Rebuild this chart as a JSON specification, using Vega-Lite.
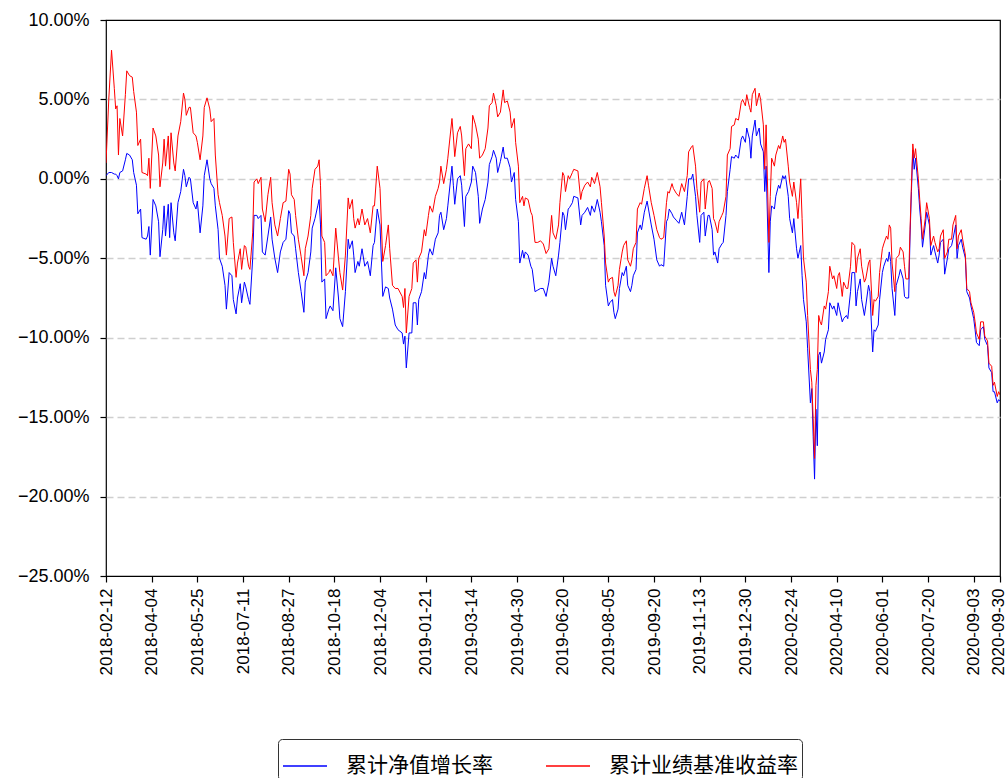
{
  "$schema": "https://vega.github.io/schema/vega-lite/v6.json",
  "width": 894,
  "height": 556,
  "autosize": {"type": "none"},
  "padding": {"left": 106, "top": 20, "right": 7, "bottom": 202},
  "background": "white",
  "config": {
    "view": {"stroke": "#000000", "strokeWidth": 1.2},
    "font": "Liberation Sans"
  },
  "data": {"values": [
    {"i":0,"nav":0.2,"bench":1.0},{"i":2,"nav":0.4,"bench":5.0},{"i":4,"nav":0.4,"bench":8.1},{"i":6,"nav":0.3,"bench":5.7},{"i":7,"nav":0.3,"bench":4.4},{"i":8,"nav":0.2,"bench":4.6},{"i":9,"nav":0.0,"bench":1.5},{"i":10,"nav":0.4,"bench":3.8},{"i":12,"nav":0.5,"bench":2.7},{"i":14,"nav":1.2,"bench":5.3},{"i":15,"nav":1.6,"bench":6.8},{"i":17,"nav":1.5,"bench":6.5},{"i":19,"nav":1.2,"bench":6.4},{"i":20,"nav":0.4,"bench":5.5},{"i":22,"nav":-0.4,"bench":4.2},{"i":23,"nav":-2.2,"bench":2.1},{"i":25,"nav":-1.9,"bench":2.5},{"i":26,"nav":-3.7,"bench":0.4},{"i":29,"nav":-3.8,"bench":0.3},{"i":30,"nav":-3.6,"bench":0.2},{"i":31,"nav":-3.0,"bench":1.3},{"i":32,"nav":-4.8,"bench":-0.6},{"i":34,"nav":-1.3,"bench":3.2},{"i":36,"nav":-1.7,"bench":2.7},{"i":38,"nav":-2.7,"bench":1.5},{"i":39,"nav":-4.9,"bench":-0.5},{"i":41,"nav":-3.2,"bench":1.0},{"i":42,"nav":-1.7,"bench":2.5},{"i":43,"nav":-3.6,"bench":0.8},{"i":45,"nav":-1.6,"bench":2.7},{"i":46,"nav":-3.7,"bench":0.6},{"i":47,"nav":-1.5,"bench":2.9},{"i":49,"nav":-3.4,"bench":1.0},{"i":50,"nav":-3.9,"bench":0.5},{"i":52,"nav":-1.5,"bench":2.7},{"i":54,"nav":-0.8,"bench":3.6},{"i":56,"nav":0.6,"bench":5.4},{"i":57,"nav":0.2,"bench":5.0},{"i":58,"nav":-0.5,"bench":4.0},{"i":60,"nav":0.1,"bench":4.5},{"i":61,"nav":0.0,"bench":4.5},{"i":63,"nav":-1.5,"bench":2.9},{"i":65,"nav":-1.9,"bench":2.7},{"i":66,"nav":-1.4,"bench":2.3},{"i":68,"nav":-3.4,"bench":1.2},{"i":70,"nav":-1.7,"bench":2.7},{"i":71,"nav":0.2,"bench":4.5},{"i":73,"nav":1.2,"bench":5.1},{"i":75,"nav":0.0,"bench":4.4},{"i":76,"nav":-0.3,"bench":3.6},{"i":78,"nav":-0.6,"bench":3.8},{"i":79,"nav":-1.7,"bench":1.5},{"i":81,"nav":-3.2,"bench":-1.0},{"i":82,"nav":-5.0,"bench":-1.5},{"i":84,"nav":-5.5,"bench":-2.3},{"i":86,"nav":-6.7,"bench":-3.6},{"i":87,"nav":-8.2,"bench":-4.8},{"i":89,"nav":-5.9,"bench":-2.5},{"i":91,"nav":-6.1,"bench":-2.4},{"i":92,"nav":-7.6,"bench":-4.0},{"i":94,"nav":-8.5,"bench":-6.2},{"i":95,"nav":-7.5,"bench":-5.3},{"i":97,"nav":-6.6,"bench":-4.4},{"i":98,"nav":-7.8,"bench":-5.7},{"i":100,"nav":-6.5,"bench":-4.2},{"i":101,"nav":-6.8,"bench":-4.3},{"i":103,"nav":-7.6,"bench":-5.5},{"i":104,"nav":-7.9,"bench":-5.7},
    {"i":106,"nav":-5.0,"bench":-3.4},{"i":107,"nav":-2.3,"bench":-0.2},{"i":109,"nav":-2.3,"bench":0.0},{"i":110,"nav":-2.5,"bench":-0.3},{"i":112,"nav":-2.3,"bench":0.1},{"i":113,"nav":-4.6,"bench":-1.9},{"i":115,"nav":-4.8,"bench":-2.7},{"i":117,"nav":-3.6,"bench":-1.0},{"i":119,"nav":-2.4,"bench":0.1},{"i":120,"nav":-3.8,"bench":-1.5},{"i":122,"nav":-5.0,"bench":-2.9},{"i":124,"nav":-5.9,"bench":-3.6},{"i":126,"nav":-4.6,"bench":-2.5},{"i":128,"nav":-4.0,"bench":-1.5},{"i":130,"nav":-3.8,"bench":-1.4},{"i":132,"nav":-2.0,"bench":0.6},{"i":133,"nav":-2.2,"bench":0.3},{"i":134,"nav":-3.4,"bench":-1.0},{"i":136,"nav":-3.6,"bench":-1.3},{"i":137,"nav":-4.4,"bench":-2.3},{"i":139,"nav":-5.9,"bench":-3.8},{"i":141,"nav":-7.1,"bench":-4.9},{"i":143,"nav":-8.4,"bench":-6.1},{"i":144,"nav":-6.5,"bench":-4.4},{"i":146,"nav":-5.9,"bench":-3.6},{"i":148,"nav":-4.6,"bench":-2.3},{"i":149,"nav":-3.1,"bench":-0.6},{"i":151,"nav":-2.5,"bench":0.6},{"i":153,"nav":-1.7,"bench":0.8},{"i":154,"nav":-1.3,"bench":1.2},{"i":155,"nav":-2.9,"bench":-0.4},{"i":156,"nav":-6.5,"bench":-3.6},{"i":158,"nav":-6.3,"bench":-4.0},{"i":159,"nav":-8.8,"bench":-6.1},{"i":161,"nav":-8.2,"bench":-5.9},{"i":162,"nav":-8.0,"bench":-5.7},{"i":164,"nav":-8.3,"bench":-6.1},{"i":166,"nav":-5.6,"bench":-3.1},{"i":168,"nav":-7.5,"bench":-5.0},{"i":169,"nav":-8.8,"bench":-5.9},{"i":171,"nav":-9.3,"bench":-7.0},{"i":173,"nav":-7.1,"bench":-4.8},{"i":175,"nav":-3.8,"bench":-1.2},{"i":176,"nav":-4.4,"bench":-1.9},{"i":178,"nav":-3.9,"bench":-1.3},{"i":179,"nav":-4.8,"bench":-2.5},{"i":180,"nav":-5.9,"bench":-3.1},{"i":182,"nav":-5.2,"bench":-2.5},{"i":183,"nav":-5.5,"bench":-2.9},{"i":185,"nav":-4.4,"bench":-1.9},{"i":187,"nav":-5.5,"bench":-2.9},{"i":189,"nav":-5.2,"bench":-2.5},{"i":191,"nav":-6.1,"bench":-3.4},{"i":193,"nav":-4.2,"bench":-1.7},{"i":194,"nav":-4.0,"bench":-1.7},{"i":196,"nav":-1.9,"bench":0.8},{"i":198,"nav":-2.9,"bench":-0.6},{"i":200,"nav":-7.4,"bench":-5.2},{"i":202,"nav":-6.8,"bench":-4.2},{"i":204,"nav":-6.9,"bench":-2.9},{"i":205,"nav":-7.5,"bench":-4.4},{"i":207,"nav":-8.2,"bench":-6.7},{"i":209,"nav":-9.2,"bench":-6.9},
    {"i":211,"nav":-9.5,"bench":-6.9},{"i":214,"nav":-9.7,"bench":-7.4},{"i":215,"nav":-10.4,"bench":-8.1},{"i":216,"nav":-9.9,"bench":-6.9},{"i":217,"nav":-11.9,"bench":-9.7},{"i":219,"nav":-9.7,"bench":-7.4},{"i":221,"nav":-9.7,"bench":-6.9},{"i":222,"nav":-7.8,"bench":-5.3},{"i":224,"nav":-7.8,"bench":-5.1},{"i":225,"nav":-9.2,"bench":-6.5},{"i":226,"nav":-7.6,"bench":-5.0},{"i":228,"nav":-7.1,"bench":-4.6},{"i":230,"nav":-5.9,"bench":-3.2},{"i":231,"nav":-6.3,"bench":-3.6},{"i":233,"nav":-4.8,"bench":-2.3},{"i":234,"nav":-4.4,"bench":-1.7},{"i":236,"nav":-4.8,"bench":-2.1},{"i":238,"nav":-3.8,"bench":-1.1},{"i":240,"nav":-3.4,"bench":-0.6},{"i":241,"nav":-2.3,"bench":-0.2},{"i":242,"nav":-2.1,"bench":0.8},{"i":244,"nav":-3.2,"bench":-0.3},{"i":246,"nav":-2.5,"bench":0.6},{"i":247,"nav":-1.7,"bench":1.3},{"i":250,"nav":0.8,"bench":3.8},{"i":251,"nav":-0.4,"bench":2.7},{"i":252,"nav":-1.6,"bench":1.4},{"i":254,"nav":0.0,"bench":2.9},{"i":256,"nav":0.2,"bench":3.3},{"i":257,"nav":-0.4,"bench":2.7},{"i":259,"nav":-3.0,"bench":0.2},{"i":260,"nav":-1.1,"bench":1.9},{"i":262,"nav":-0.8,"bench":2.2},{"i":264,"nav":-0.2,"bench":1.9},{"i":265,"nav":0.8,"bench":4.0},{"i":267,"nav":0.4,"bench":3.4},{"i":269,"nav":-1.1,"bench":2.5},{"i":270,"nav":-2.8,"bench":1.3},{"i":272,"nav":-1.9,"bench":1.5},{"i":274,"nav":-1.3,"bench":1.9},{"i":276,"nav":-0.2,"bench":3.2},{"i":277,"nav":0.9,"bench":4.6},{"i":279,"nav":1.4,"bench":4.8},{"i":280,"nav":1.8,"bench":5.4},{"i":282,"nav":1.3,"bench":4.6},{"i":283,"nav":0.4,"bench":3.9},{"i":285,"nav":1.1,"bench":4.2},{"i":287,"nav":2.0,"bench":5.6},{"i":288,"nav":1.3,"bench":4.8},{"i":290,"nav":1.3,"bench":4.9},{"i":292,"nav":0.7,"bench":4.2},{"i":293,"nav":-0.2,"bench":3.2},{"i":295,"nav":0.4,"bench":3.8},{"i":296,"nav":-1.3,"bench":2.3},{"i":298,"nav":-2.7,"bench":0.8},{"i":299,"nav":-5.3,"bench":-1.5},{"i":301,"nav":-4.5,"bench":-1.1},{"i":302,"nav":-5.0,"bench":-1.7},{"i":303,"nav":-4.6,"bench":-1.2},{"i":305,"nav":-4.8,"bench":-1.3},{"i":307,"nav":-5.5,"bench":-2.1},{"i":308,"nav":-5.7,"bench":-2.3},{"i":310,"nav":-7.1,"bench":-4.0},{"i":312,"nav":-7.0,"bench":-4.0},{"i":314,"nav":-6.9,"bench":-3.9},{"i":316,"nav":-6.9,"bench":-4.1},{"i":318,"nav":-7.4,"bench":-4.7},{"i":320,"nav":-6.5,"bench":-4.4},
    {"i":322,"nav":-5.0,"bench":-2.3},{"i":323,"nav":-5.5,"bench":-3.4},{"i":325,"nav":-6.1,"bench":-3.8},{"i":327,"nav":-4.8,"bench":-2.9},{"i":328,"nav":-4.0,"bench":-1.5},{"i":330,"nav":-2.1,"bench":0.4},{"i":331,"nav":-2.3,"bench":0.2},{"i":332,"nav":-3.2,"bench":-0.8},{"i":334,"nav":-1.9,"bench":0.2},{"i":335,"nav":-1.8,"bench":0.0},{"i":337,"nav":-1.5,"bench":0.4},{"i":338,"nav":-1.1,"bench":0.6},{"i":341,"nav":-1.2,"bench":0.5},{"i":343,"nav":-2.9,"bench":-1.3},{"i":344,"nav":-2.3,"bench":-0.8},{"i":346,"nav":-2.1,"bench":-0.4},{"i":348,"nav":-1.8,"bench":-0.2},{"i":350,"nav":-2.3,"bench":-0.5},{"i":351,"nav":-1.7,"bench":0.1},{"i":353,"nav":-2.1,"bench":-0.3},{"i":355,"nav":-1.3,"bench":0.4},{"i":357,"nav":-2.1,"bench":-0.5},{"i":358,"nav":-2.7,"bench":-1.5},{"i":360,"nav":-4.2,"bench":-3.6},{"i":361,"nav":-6.7,"bench":-5.3},{"i":363,"nav":-8.0,"bench":-6.5},{"i":364,"nav":-7.8,"bench":-6.3},{"i":366,"nav":-7.6,"bench":-6.2},{"i":367,"nav":-8.4,"bench":-7.1},{"i":368,"nav":-8.8,"bench":-7.4},{"i":370,"nav":-8.2,"bench":-6.7},{"i":371,"nav":-6.9,"bench":-5.7},{"i":373,"nav":-5.9,"bench":-4.6},{"i":374,"nav":-6.1,"bench":-4.2},{"i":376,"nav":-5.5,"bench":-3.9},{"i":377,"nav":-6.7,"bench":-5.1},{"i":379,"nav":-7.1,"bench":-5.5},{"i":380,"nav":-6.7,"bench":-5.1},{"i":381,"nav":-6.1,"bench":-4.4},{"i":383,"nav":-5.7,"bench":-4.0},{"i":384,"nav":-3.4,"bench":-1.9},{"i":386,"nav":-2.9,"bench":-1.5},{"i":387,"nav":-3.2,"bench":-1.6},{"i":389,"nav":-2.1,"bench":-0.6},{"i":391,"nav":-1.4,"bench":0.2},{"i":392,"nav":-1.9,"bench":-0.4},{"i":394,"nav":-2.9,"bench":-1.5},{"i":396,"nav":-3.8,"bench":-2.3},{"i":398,"nav":-5.1,"bench":-3.2},{"i":400,"nav":-5.5,"bench":-3.7},{"i":401,"nav":-5.4,"bench":-3.8},{"i":403,"nav":-5.5,"bench":-3.7},{"i":405,"nav":-2.7,"bench":-1.5},{"i":406,"nav":-2.5,"bench":-0.8},{"i":407,"nav":-1.9,"bench":-0.9},{"i":409,"nav":-2.2,"bench":-0.3},{"i":410,"nav":-2.4,"bench":-0.6},{"i":412,"nav":-2.6,"bench":-0.9},{"i":414,"nav":-2.8,"bench":-1.1},{"i":416,"nav":-2.1,"bench":-0.3},{"i":418,"nav":-2.9,"bench":-0.8},{"i":420,"nav":-1.1,"bench":0.2},{"i":421,"nav":0.0,"bench":1.7},{"i":423,"nav":0.0,"bench":2.0},{"i":424,"nav":0.3,"bench":2.1},{"i":426,"nav":-1.1,"bench":0.8},
    {"i":427,"nav":-2.3,"bench":-0.6},{"i":429,"nav":-4.0,"bench":-2.1},{"i":430,"nav":-2.3,"bench":-0.2},{"i":432,"nav":-2.1,"bench":0.0},{"i":433,"nav":-3.6,"bench":-1.9},{"i":435,"nav":-2.3,"bench":-0.2},{"i":436,"nav":-2.3,"bench":-0.1},{"i":438,"nav":-3.2,"bench":-0.6},{"i":439,"nav":-4.8,"bench":-2.5},{"i":440,"nav":-4.6,"bench":-2.7},{"i":442,"nav":-5.3,"bench":-3.4},{"i":443,"nav":-4.4,"bench":-2.7},{"i":445,"nav":-4.1,"bench":-2.3},{"i":446,"nav":-4.0,"bench":-2.1},{"i":448,"nav":-2.3,"bench":-1.1},{"i":449,"nav":-0.8,"bench":1.5},{"i":451,"nav":0.6,"bench":1.9},{"i":452,"nav":1.4,"bench":3.3},{"i":454,"nav":1.3,"bench":3.4},{"i":455,"nav":1.5,"bench":3.8},{"i":457,"nav":1.3,"bench":3.7},{"i":459,"nav":2.5,"bench":4.8},{"i":460,"nav":2.7,"bench":5.0},{"i":462,"nav":2.3,"bench":4.6},{"i":463,"nav":3.2,"bench":5.3},{"i":465,"nav":2.5,"bench":4.5},{"i":466,"nav":1.3,"bench":4.2},{"i":467,"nav":2.7,"bench":5.3},{"i":469,"nav":3.7,"bench":5.7},{"i":470,"nav":2.7,"bench":4.6},{"i":472,"nav":3.2,"bench":5.4},{"i":473,"nav":2.2,"bench":5.0},{"i":475,"nav":1.7,"bench":3.4},{"i":476,"nav":-0.8,"bench":0.6},{"i":477,"nav":0.8,"bench":3.4},{"i":479,"nav":-5.9,"bench":-4.0},{"i":480,"nav":-2.7,"bench":-1.1},{"i":481,"nav":-1.7,"bench":1.3},{"i":483,"nav":-1.9,"bench":0.8},{"i":484,"nav":-1.1,"bench":1.5},{"i":486,"nav":-0.4,"bench":2.1},{"i":487,"nav":-0.6,"bench":1.9},{"i":489,"nav":0.2,"bench":2.7},{"i":490,"nav":0.0,"bench":2.3},{"i":491,"nav":0.2,"bench":2.5},{"i":493,"nav":-1.1,"bench":0.8},{"i":494,"nav":-2.5,"bench":-0.2},{"i":496,"nav":-3.4,"bench":-1.1},{"i":497,"nav":-2.5,"bench":-0.2},{"i":499,"nav":-4.4,"bench":-1.5},{"i":500,"nav":-5.0,"bench":-2.5},{"i":502,"nav":-4.2,"bench":0.0},{"i":503,"nav":-6.1,"bench":-2.5},{"i":504,"nav":-7.6,"bench":-5.0},{"i":506,"nav":-9.0,"bench":-6.5},{"i":507,"nav":-10.7,"bench":-8.6},{"i":509,"nav":-14.1,"bench":-12.0},{"i":510,"nav":-13.2,"bench":-12.8},{"i":511,"nav":-16.2,"bench":-15.1},{"i":512,"nav":-18.9,"bench":-17.6},{"i":513,"nav":-14.5,"bench":-13.0},{"i":514,"nav":-16.8,"bench":-12.0},{"i":515,"nav":-11.1,"bench":-8.6},{"i":516,"nav":-10.9,"bench":-9.0},{"i":517,"nav":-11.6,"bench":-9.2},{"i":519,"nav":-10.9,"bench":-8.0},{"i":520,"nav":-10.1,"bench":-8.2},{"i":522,"nav":-9.5,"bench":-7.1},{"i":523,"nav":-7.8,"bench":-5.5},{"i":525,"nav":-8.2,"bench":-6.3},{"i":526,"nav":-8.0,"bench":-6.1},{"i":528,"nav":-8.6,"bench":-6.9},{"i":529,"nav":-7.8,"bench":-6.1},{"i":530,"nav":-8.2,"bench":-5.9},{"i":532,"nav":-9.0,"bench":-7.4},{"i":533,"nav":-8.8,"bench":-6.5},{"i":535,"nav":-8.6,"bench":-6.9},
    {"i":536,"nav":-8.8,"bench":-6.9},{"i":538,"nav":-7.1,"bench":-5.5},{"i":539,"nav":-5.9,"bench":-4.0},{"i":541,"nav":-5.9,"bench":-4.2},{"i":542,"nav":-8.0,"bench":-5.9},{"i":543,"nav":-7.1,"bench":-5.0},{"i":545,"nav":-6.3,"bench":-4.4},{"i":546,"nav":-7.6,"bench":-5.5},{"i":548,"nav":-8.6,"bench":-6.5},{"i":549,"nav":-8.0,"bench":-6.3},{"i":551,"nav":-6.7,"bench":-5.3},{"i":552,"nav":-7.1,"bench":-5.1},{"i":554,"nav":-10.9,"bench":-8.6},{"i":555,"nav":-9.5,"bench":-7.6},{"i":556,"nav":-9.6,"bench":-7.7},{"i":558,"nav":-9.2,"bench":-7.4},{"i":559,"nav":-7.6,"bench":-5.9},{"i":561,"nav":-5.9,"bench":-4.4},{"i":562,"nav":-5.5,"bench":-4.1},{"i":564,"nav":-5.0,"bench":-3.6},{"i":565,"nav":-5.2,"bench":-3.8},{"i":566,"nav":-4.6,"bench":-2.9},{"i":567,"nav":-5.2,"bench":-3.1},{"i":568,"nav":-6.9,"bench":-5.3},{"i":570,"nav":-8.6,"bench":-7.1},{"i":571,"nav":-6.7,"bench":-5.0},{"i":573,"nav":-6.1,"bench":-4.8},{"i":574,"nav":-5.7,"bench":-4.3},{"i":576,"nav":-6.3,"bench":-4.6},{"i":577,"nav":-7.4,"bench":-5.5},{"i":578,"nav":-7.5,"bench":-6.3},{"i":580,"nav":-7.5,"bench":-6.3},{"i":581,"nav":-3.6,"bench":-3.2},{"i":582,"nav":-0.8,"bench":-0.4},{"i":583,"nav":1.8,"bench":2.2},{"i":584,"nav":0.6,"bench":1.3},{"i":585,"nav":1.3,"bench":1.9},{"i":587,"nav":-0.6,"bench":0.0},{"i":588,"nav":-1.9,"bench":-1.3},{"i":589,"nav":-2.9,"bench":-2.5},{"i":590,"nav":-4.3,"bench":-3.8},{"i":592,"nav":-2.9,"bench":-2.5},{"i":593,"nav":-2.1,"bench":-1.5},{"i":595,"nav":-2.9,"bench":-2.5},{"i":596,"nav":-4.8,"bench":-4.2},{"i":598,"nav":-4.2,"bench":-3.6},{"i":599,"nav":-4.6,"bench":-4.0},{"i":601,"nav":-5.3,"bench":-4.6},{"i":602,"nav":-4.8,"bench":-4.4},{"i":603,"nav":-4.0,"bench":-3.6},{"i":605,"nav":-3.8,"bench":-3.2},{"i":606,"nav":-6.0,"bench":-5.0},{"i":608,"nav":-5.0,"bench":-4.6},{"i":609,"nav":-4.4,"bench":-3.8},{"i":611,"nav":-4.2,"bench":-3.8},{"i":612,"nav":-3.8,"bench":-2.9},{"i":614,"nav":-2.9,"bench":-2.3},{"i":615,"nav":-5.0,"bench":-4.4},{"i":616,"nav":-4.2,"bench":-3.6},{"i":618,"nav":-3.8,"bench":-3.2},{"i":619,"nav":-4.3,"bench":-3.8},{"i":621,"nav":-5.0,"bench":-4.8},{"i":622,"nav":-7.1,"bench":-6.9},{"i":624,"nav":-7.5,"bench":-7.1},{"i":625,"nav":-8.0,"bench":-7.8},{"i":627,"nav":-8.8,"bench":-8.4},{"i":628,"nav":-9.5,"bench":-9.0},{"i":629,"nav":-10.3,"bench":-9.7},{"i":631,"nav":-10.5,"bench":-10.1},{"i":632,"nav":-9.5,"bench":-9.0},{"i":634,"nav":-9.3,"bench":-9.0},{"i":635,"nav":-10.1,"bench":-9.9},{"i":637,"nav":-10.5,"bench":-10.2},{"i":638,"nav":-11.9,"bench":-11.6},{"i":640,"nav":-12.2,"bench":-11.8},{"i":641,"nav":-13.4,"bench":-13.0},{"i":642,"nav":-13.4,"bench":-12.8},{"i":644,"nav":-14.1,"bench":-13.7},{"i":645,"nav":-13.9,"bench":-13.4},{"i":646,"nav":-14.0,"bench":-13.6}
  ]},
  "transform": [{"fold": ["nav", "bench"], "as": ["series", "value"]}],
  "encoding": {
    "x": {
      "field": "i", "type": "quantitative",
      "scale": {"domain": [0, 646], "nice": false, "zero": false},
      "axis": {
        "title": null, "grid": false, "domain": false,
        "values": [0, 33, 66, 99, 132, 165, 198, 231, 264, 297, 330, 363, 396, 429, 462, 495, 528, 561, 594, 627, 646],
        "labelExpr": "datum.value == 646 ? '2020-09-30' : ['2018-02-12','2018-04-04','2018-05-25','2018-07-11','2018-08-27','2018-10-18','2018-12-04','2019-01-21','2019-03-14','2019-04-30','2019-06-20','2019-08-05','2019-09-20','2019-11-13','2019-12-30','2020-02-24','2020-04-10','2020-06-01','2020-07-20','2020-09-03'][round(datum.value / 33)]",
        "labelAngle": -90, "labelFontSize": 17, "labelColor": "#000000", "labelFont": "Liberation Sans",
        "labelFlush": false, "labelOverlap": false, "labelBound": false,
        "labelOffset": {"condition": {"test": "datum.value == 646", "value": -2}, "value": 0},
        "tickColor": "#000000", "tickSize": 6, "tickWidth": 1.2, "labelPadding": 6
      }
    },
    "y": {
      "field": "value", "type": "quantitative",
      "scale": {"domain": [-25, 10], "nice": false, "zero": false},
      "axis": {
        "title": null, "domain": false,
        "values": [-25, -20, -15, -10, -5, 0, 5, 10],
        "labelExpr": "format(datum.value, '.2f') + '%'",
        "labelFontSize": 18, "labelColor": "#000000", "labelFont": "Liberation Sans",
        "labelFlush": false, "labelOverlap": false,
        "tickColor": "#000000", "tickSize": 6, "tickWidth": 1.2, "labelPadding": 11,
        "grid": true,
        "gridColor": {"condition": {"test": "datum.value == 10 || datum.value == -25", "value": "transparent"}, "value": "#cfcfcf"},
        "gridDash": [7, 4], "gridWidth": 1.4
      }
    },
    "color": {
      "field": "series", "type": "nominal",
      "scale": {"domain": ["nav", "bench"], "range": ["#0000ff", "#ff0000"]},
      "legend": {
        "title": null, "orient": "none", "legendX": 172, "legendY": 719,
        "direction": "horizontal",
        "labelExpr": "datum.label === 'nav' ? '累计净值增长率' : '累计业绩基准收益率'",
        "labelFont": "Noto Sans CJK SC", "labelFontSize": 21, "labelColor": "#000000", "labelLimit": 400,
        "symbolType": "stroke", "symbolSize": 1936, "symbolStrokeWidth": 1.5,
        "labelOffset": 18, "columnPadding": 50,
        "padding": 4, "strokeColor": "#333333", "fillColor": "#ffffff", "cornerRadius": 4
      }
    }
  },
  "layer": [
    {"transform": [{"filter": "datum.series === 'nav'"}], "mark": {"type": "line", "strokeWidth": 1, "clip": true}},
    {"transform": [{"filter": "datum.series === 'bench'"}], "mark": {"type": "line", "strokeWidth": 1, "clip": true}}
  ]
}
